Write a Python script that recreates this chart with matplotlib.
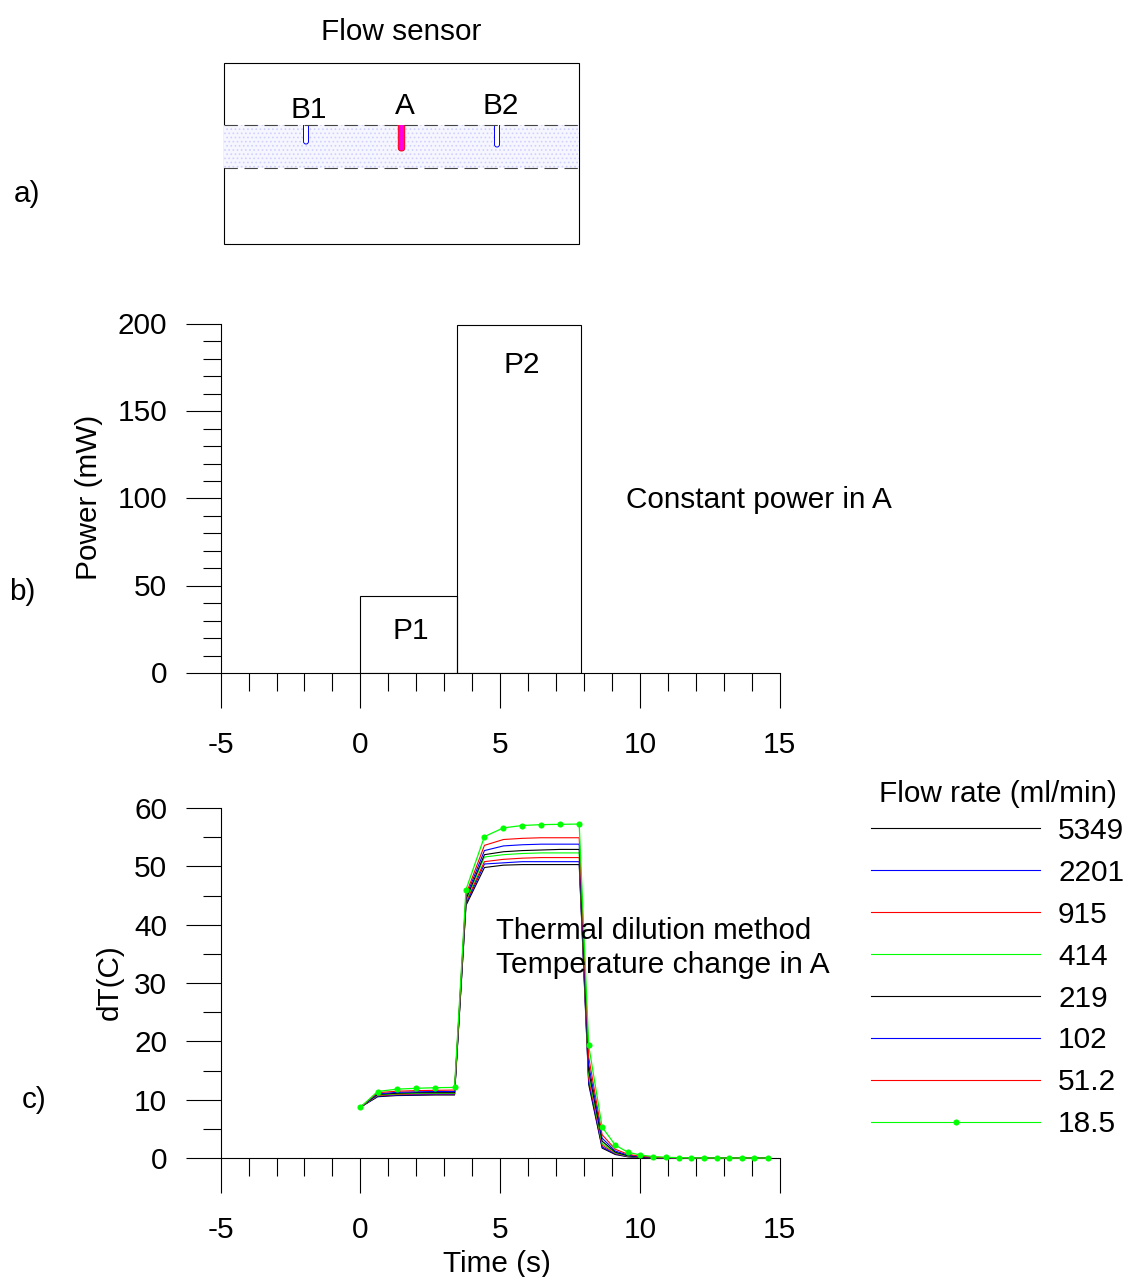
import matplotlib
matplotlib.use("Agg")
import matplotlib.pyplot as plt
from matplotlib.patches import Rectangle, PathPatch
from matplotlib.path import Path
from matplotlib.ticker import MultipleLocator
from matplotlib.transforms import ScaledTranslation

W, H = 1127, 1277
plt.rcParams['font.family'] = ['Liberation Sans', 'DejaVu Sans']
plt.rcParams['axes.unicode_minus'] = False
plt.rcParams['hatch.linewidth'] = 0.7
FS = 21.4
LW = 0.8

time_s = [0, 0.62, 1.3, 2.0, 2.68, 3.37, 3.78, 4.44, 5.12, 5.8, 6.47, 7.15, 7.83,
          8.17, 8.65, 9.12, 9.57, 10.02, 10.47, 10.95, 11.4, 11.83, 12.3, 12.77,
          13.2, 13.65, 14.1, 14.57]

flow_labels = ['5349', '2201', '915', '414', '219', '102', '51.2', '18.5']
flow_colors = ['black', 'blue', 'red', '#00ff00', 'black', 'blue', 'red', '#00ff00']

dt_5349 = [8.7, 10.5, 10.7, 10.75, 10.8, 10.8, 43.3, 49.8, 50.2, 50.3, 50.3, 50.3, 50.3,
           12.6, 1.7, 0.6, 0.2, 0.07, 0.03, 0.01, 0, 0, 0, 0, 0, 0, 0, 0]
dt_2201 = [8.7, 10.6, 10.8, 10.85, 10.9, 10.9, 43.6, 50.4, 50.6, 50.8, 50.8, 50.8, 50.8,
           13.0, 1.9, 0.7, 0.25, 0.09, 0.04, 0.01, 0, 0, 0, 0, 0, 0, 0, 0]
dt_915 = [8.7, 10.7, 10.9, 11.0, 11.0, 11.0, 43.9, 50.8, 51.2, 51.4, 51.5, 51.5, 51.5,
          13.6, 2.2, 0.8, 0.3, 0.1, 0.05, 0.02, 0, 0, 0, 0, 0, 0, 0, 0]
dt_414 = [8.7, 10.8, 11.0, 11.1, 11.1, 11.1, 44.1, 51.6, 52.0, 52.2, 52.3, 52.3, 52.3,
          14.3, 2.5, 0.9, 0.35, 0.13, 0.06, 0.03, 0.01, 0, 0, 0, 0, 0, 0, 0]
dt_219 = [8.7, 10.9, 11.1, 11.2, 11.2, 11.2, 44.4, 52.0, 52.5, 52.7, 52.8, 52.9, 52.9,
          15.0, 2.9, 1.0, 0.4, 0.16, 0.07, 0.03, 0.01, 0, 0, 0, 0, 0, 0, 0]
dt_102 = [8.7, 11.0, 11.25, 11.35, 11.4, 11.4, 44.8, 52.7, 53.5, 53.7, 53.8, 53.8, 53.8,
          16.0, 3.4, 1.2, 0.5, 0.2, 0.09, 0.04, 0.02, 0.01, 0, 0, 0, 0, 0, 0]
dt_51 = [8.7, 11.2, 11.45, 11.55, 11.6, 11.65, 45.2, 53.6, 54.6, 54.8, 54.9, 54.9, 54.9,
         17.3, 4.0, 1.5, 0.65, 0.28, 0.13, 0.06, 0.03, 0.01, 0, 0, 0, 0, 0, 0]
dt_18 = [8.7, 11.4, 11.8, 11.95, 12.05, 12.1, 46.0, 55.1, 56.6, 57.0, 57.15, 57.2, 57.25,
         19.3, 5.3, 2.2, 1.0, 0.5, 0.25, 0.12, 0.06, 0.03, 0.02, 0.01, 0, 0, 0, 0]
dt_series = [dt_5349, dt_2201, dt_915, dt_414, dt_219, dt_102, dt_51, dt_18]

p_starts = [0, 3.47]
p_widths = [3.47, 4.41]
p_heights = [44, 199.5]
p_names = ['P1', 'P2']

fig = plt.figure(figsize=(W / 100, H / 100), dpi=100)


def px_axes(left, top, right, bottom):
    return fig.add_axes([left / W, 1 - bottom / H, (right - left) / W, (bottom - top) / H])


def style(ax, ymaj, ymin, ylim, lift):
    ax.set_xlim(-5, 15)
    ax.set_ylim(*ylim)
    for s in ('top', 'right'):
        ax.spines[s].set_visible(False)
    for s in ('left', 'bottom'):
        ax.spines[s].set_linewidth(LW)
    ax.xaxis.set_major_locator(MultipleLocator(5))
    ax.xaxis.set_minor_locator(MultipleLocator(1))
    ax.yaxis.set_major_locator(MultipleLocator(ymaj))
    ax.yaxis.set_minor_locator(MultipleLocator(ymin))
    ax.tick_params(which='major', length=25, width=LW, labelsize=FS)
    ax.tick_params(which='minor', length=13, width=LW)
    ax.tick_params(axis='x', which='major', pad=17)
    ax.tick_params(axis='y', which='major', pad=13.5)
    ax.patch.set_alpha(0)
    up = ScaledTranslation(0, lift / 100, fig.dpi_scale_trans)
    for lab in ax.get_yticklabels():
        lab.set_transform(lab.get_transform() + up)


# panel b
axb = px_axes(220.6, 324, 779.6, 673)
style(axb, 50, 10, (0, 200), 1)
for s, w, h in zip(p_starts, p_widths, p_heights):
    axb.bar(s, h, width=w, align='edge', facecolor='none', edgecolor='black', linewidth=LW)

# panel c
axc = px_axes(220.6, 808, 779.6, 1158)
style(axc, 10, 5, (0, 60), 0)
for i, (vals, col) in enumerate(zip(dt_series, flow_colors)):
    if i == len(dt_series) - 1:
        axc.plot(time_s, vals, color=col, lw=0.9, marker='o', ms=4.4, mew=0, clip_on=False, zorder=5)
    else:
        axc.plot(time_s, vals, color=col, lw=0.8, clip_on=False, zorder=3 + i * 0.1)

# overlay in pixel coordinates for schematic, legend and annotations
ov = fig.add_axes([0, 0, 1, 1])
ov.set_xlim(0, W)
ov.set_ylim(H, 0)
ov.axis('off')
ov.patch.set_alpha(0)


def T(x, y, s, ha='center', rot=0, fs=FS):
    ov.text(x, y, s, ha=ha, va='center' if rot else 'center_baseline', rotation=rot,
            fontsize=fs, color='black')


# panel a schematic
ov.add_patch(Rectangle((224, 63), 355, 181, fc='none', ec='black', lw=LW))
ov.plot([224, 579], [125, 125], color='#444444', lw=LW, dashes=(12, 6))
ov.plot([224, 579], [168, 168], color='#444444', lw=LW, dashes=(12, 6))
ov.add_patch(Rectangle((224, 125), 355, 43, fc='#f6f6ff', ec='#d0d0ff', hatch='....', lw=0))


def probe(cx, bottom, half, fc, ec):
    top = 125
    verts = [(cx - half, top), (cx - half, bottom - half), (cx - half, bottom), (cx, bottom),
             (cx + half, bottom), (cx + half, bottom - half), (cx + half, top)]
    codes = [Path.MOVETO, Path.LINETO, Path.CURVE3, Path.CURVE3, Path.CURVE3, Path.CURVE3, Path.LINETO]
    ov.add_patch(PathPatch(Path(verts, codes), fc=fc, ec=ec, lw=0.7))


probe(306, 144, 2.5, 'white', 'blue')
probe(401.5, 151, 3.2, '#ff00e0', 'red')
probe(497, 147, 2.5, 'white', 'blue')

T(401.5, 28.5, 'Flow sensor')
T(308.5, 106.5, 'B1')
T(405, 102.5, 'A')
T(500.5, 103.5, 'B2')
T(27, 191.5, 'a)')
T(22, 588.5, 'b)')
T(34, 1097.5, 'c)')
T(410.5, 628, p_names[0])
T(521.5, 362, p_names[1])
T(626, 496.5, 'Constant power in A', ha='left')
T(89, 497, 'Power (mW)', rot=90)
T(110, 982, 'dT(C)', rot=90)
T(497, 1260.5, 'Time (s)')
T(496, 928, 'Thermal dilution method', ha='left', fs=21.2)
T(496, 962, 'Temperature change in A', ha='left', fs=21.6)

# legend
T(997.5, 791.5, 'Flow rate (ml/min)')
for i, (lab, col) in enumerate(zip(flow_labels, flow_colors)):
    y = 828 + i * 42
    ov.plot([871, 1040], [y, y], color=col, lw=0.8)
    if i == len(flow_labels) - 1:
        ov.plot([956], [y], color=col, marker='o', ms=4.4, mew=0)
    T(1058, 828 + i * 41.9, lab, ha='left')

fig.savefig('out.png', dpi=100)
